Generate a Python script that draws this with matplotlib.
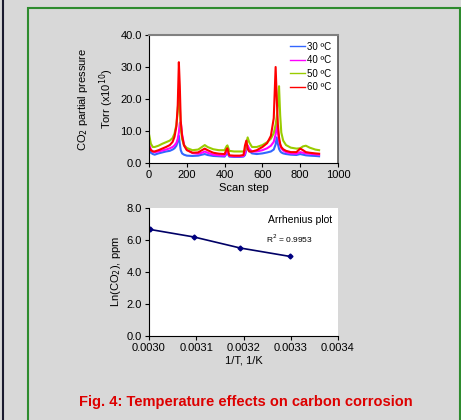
import matplotlib
matplotlib.use('Agg')
import matplotlib.pyplot as plt
from matplotlib.patches import Rectangle
from matplotlib.lines import Line2D

plt.rcParams['font.family'] = ['Liberation Sans', 'DejaVu Sans']

# scan data
steps = [0, 10, 20, 30, 50, 70, 90, 110, 125, 135, 145, 152, 158, 163, 168,
         175, 185, 200, 230, 260, 280, 295, 310, 340, 370, 400, 410, 415, 425, 450,
         480, 500, 508, 515, 522, 530, 545, 570, 600, 625, 645, 660, 670, 676, 682,
         688, 694, 700, 710, 725, 750, 780, 800, 815, 830, 850, 880, 900]

co2_30 = [4.0, 3.2, 2.8, 2.6, 3.0, 3.3, 3.6, 3.8, 4.2, 4.6, 5.4, 6.8, 8.5, 6.0, 4.0,
          3.0, 2.6, 2.3, 2.2, 2.3, 2.6, 2.8, 2.5, 2.2, 2.1, 2.0, 2.8, 3.0, 2.0, 1.9,
          1.9, 2.0, 2.5, 4.0, 5.0, 3.8, 3.0, 2.8, 3.0, 3.3, 3.6, 4.2, 5.8, 8.0, 6.0,
          4.4, 3.7, 3.3, 3.0, 2.8, 2.6, 2.5, 2.8, 2.6, 2.4, 2.3, 2.2, 2.1]
co2_40 = [6.0, 4.2, 3.6, 3.4, 3.6, 3.9, 4.2, 4.6, 5.0, 5.5, 6.3, 7.5, 9.5, 12.5, 12.8,
          9.0, 5.8, 4.2, 3.1, 2.9, 3.2, 3.6, 3.2, 2.6, 2.4, 2.3, 3.4, 3.6, 2.2, 2.1,
          2.1, 2.2, 3.0, 4.5, 5.5, 4.5, 3.6, 3.6, 4.0, 4.6, 5.4, 6.6, 9.0, 12.5, 9.5,
          7.0, 5.4, 4.6, 3.9, 3.4, 3.0, 2.9, 3.4, 3.2, 3.0, 2.9, 2.7, 2.6]
co2_50 = [9.0, 6.0, 5.0, 5.0, 5.4, 6.0, 6.5, 7.0, 7.8, 9.2, 12.0, 16.0, 23.0, 18.0, 11.0,
          7.5, 5.6, 4.7, 4.0, 4.2, 5.0, 5.6, 5.0, 4.3, 4.0, 4.0, 5.2, 5.5, 3.8, 3.6,
          3.6, 3.6, 4.0, 6.0, 8.0, 6.5, 5.0, 5.0, 5.6, 6.5, 7.6, 9.3, 12.0, 14.5, 18.5,
          24.0, 15.0, 9.5, 7.0, 5.6, 4.8, 4.5, 4.6, 5.2, 5.4, 4.8, 4.2, 4.0]
co2_60 = [5.0, 4.0, 3.6, 3.6, 4.0, 4.5, 5.0, 5.6, 6.6, 8.2, 11.5, 18.0, 31.5, 24.0, 13.0,
          8.5, 5.5, 4.0, 3.2, 3.3, 4.0, 4.5, 4.0, 3.2, 2.9, 2.8, 4.2, 4.6, 2.4, 2.3,
          2.3, 2.5, 5.5, 7.0, 4.5, 3.6, 3.6, 4.0, 5.0, 6.2, 8.5, 14.0, 30.0, 20.0, 12.0,
          8.0, 6.0, 5.0, 4.3, 3.8, 3.4, 3.4, 4.5, 4.0, 3.4, 3.2, 3.0, 2.9]

series = [('30 ºC', co2_30, '#3366ff'),
          ('40 ºC', co2_40, '#ff00ff'),
          ('50 ºC', co2_50, '#99cc00'),
          ('60 ºC', co2_60, '#ff0000')]

# arrhenius data
inv_T = [0.003002, 0.003095, 0.003193, 0.003299]
ln_co2 = [6.66, 6.19, 5.50, 4.97]

bg = '#d8d8d8'
fig = plt.figure(figsize=(4.61, 4.20), dpi=100, facecolor=bg)

# frame decorations
fig.add_artist(Line2D([2.5 / 461, 2.5 / 461], [0, 1], color='#1a1a2e', lw=1.5,
                      transform=fig.transFigure))
fig.add_artist(Rectangle((28 / 461, -0.05), 431.5 / 461, 1 - 7.5 / 420 + 0.05,
                         transform=fig.transFigure, fill=False,
                         edgecolor='#2e8b2e', lw=1.5))

fs = 8

# --- top chart ---
ax1 = fig.add_axes([149 / 461, 1 - 163 / 420, 189 / 461, 128 / 420])
ax1.set_facecolor('white')
for name, vals, col in series:
    ax1.plot(steps, vals, color=col, lw=1.5, label=name)
ax1.set_xlim(0, 1000)
ax1.set_ylim(0, 40)
ax1.set_xticks([0, 200, 400, 600, 800, 1000])
ax1.set_yticks([0, 10, 20, 30, 40])
ax1.set_yticklabels(['%.1f' % v for v in [0, 10, 20, 30, 40]])
ax1.tick_params(direction='out', length=3, width=0.8, labelsize=fs, pad=2)
ax1.spines['top'].set_color('#808080')
ax1.spines['top'].set_linewidth(1.5)
ax1.spines['right'].set_color('#555555')
ax1.spines['right'].set_linewidth(1.2)
ax1.set_xlabel('Scan step', fontsize=fs, labelpad=2)
ax1.set_ylabel('CO$_2$ partial pressure\nTorr (x10$^{10}$)', fontsize=fs,
               labelpad=3, linespacing=1.6)
leg = ax1.legend(loc='upper right', fontsize=7, frameon=False, handlelength=1.5,
                 handletextpad=0.2, labelspacing=0.35, borderaxespad=0.3)
for h in leg.get_lines():
    h.set_linewidth(1.0)

# --- bottom chart ---
ax2 = fig.add_axes([149 / 461, 1 - 336 / 420, 189 / 461, 128 / 420])
ax2.set_facecolor('white')
ax2.plot(inv_T, ln_co2, color='#000066', lw=1.2, marker='D', markersize=2.5,
         markerfacecolor='#000080', markeredgecolor='#000080')
ax2.set_xlim(0.0030, 0.0034)
ax2.set_ylim(0, 8)
xt = [0.0030, 0.0031, 0.0032, 0.0033, 0.0034]
ax2.set_xticks(xt)
ax2.set_xticklabels(['%.4f' % v for v in xt])
yt = [0, 2, 4, 6, 8]
ax2.set_yticks(yt)
ax2.set_yticklabels(['%.1f' % v for v in yt])
ax2.tick_params(direction='out', length=3, width=0.8, labelsize=fs, pad=2)
ax2.spines['top'].set_visible(False)
ax2.spines['right'].set_visible(False)
ax2.set_xlabel('1/T, 1/K', fontsize=fs, labelpad=2)
ax2.set_ylabel('Ln(CO$_2$), ppm', fontsize=fs, labelpad=3)
ax2.text(0.97, 0.91, 'Arrhenius plot', transform=ax2.transAxes, ha='right',
         va='center', fontsize=7.5)
ax2.text(0.62, 0.76, 'R$^2$ = 0.9953', transform=ax2.transAxes, ha='left',
         va='center', fontsize=6)

fig.text(246 / 461, 1 - 402 / 420, 'Fig. 4: Temperature effects on carbon corrosion',
         ha='center', va='center', color='#dd0000', fontsize=10.5, fontweight='bold')

fig.savefig('out.png', dpi=100, facecolor=bg)
